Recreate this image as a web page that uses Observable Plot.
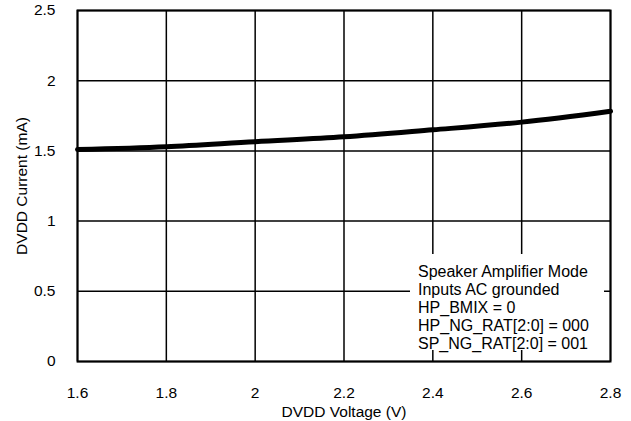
<!DOCTYPE html>
<html>
<head>
<meta charset="utf-8">
<script src="https://cdn.jsdelivr.net/npm/d3@7"></script>
<script src="https://cdn.jsdelivr.net/npm/@observablehq/plot@0.6"></script>
<style>
  html, body { margin: 0; padding: 0; background: #fff; }
  #wrap { position: relative; width: 631px; height: 421px; font-family: "Liberation Sans", Arial, sans-serif; }
  #note { position: absolute; left: 410px; top: 254px; width: 194px; height: 96px; background: #fff;
          font-size: 16px; line-height: 18px; padding: 9px 0 0 8px; box-sizing: border-box; color: #000; white-space: nowrap; }
</style>
</head>
<body>
<div id="wrap"><div id="chart"></div><div id="note"></div></div>
<script>
const voltage = [1.6, 1.8, 2.0, 2.2, 2.4, 2.6, 2.8];
const current = [1.51, 1.53, 1.566, 1.60, 1.65, 1.705, 1.783];
const xTicks = [1.6, 1.8, 2.0, 2.2, 2.4, 2.6, 2.8];
const yTicks = [0, 0.5, 1, 1.5, 2, 2.5];
const noteLines = ["Speaker Amplifier Mode", "Inputs AC grounded", "HP_BMIX = 0", "HP_NG_RAT[2:0] = 000", "SP_NG_RAT[2:0] = 001"];
const xLabel = "DVDD Voltage (V)";
const yLabel = "DVDD Current (mA)";

const data = voltage.map((v, i) => ({v, c: current[i]}));

const chart = Plot.plot({
  width: 631,
  height: 421,
  marginLeft: 77,
  marginRight: 21,
  marginTop: 10,
  marginBottom: 60,
  style: {fontFamily: "Liberation Sans, Arial, sans-serif", fontSize: "15px", color: "#000", background: "#fff"},
  x: {domain: [1.6, 2.8]},
  y: {domain: [0, 2.5]},
  marks: [
    Plot.gridX(xTicks, {stroke: "#000", strokeOpacity: 1, strokeWidth: 1.5}),
    Plot.gridY(yTicks, {stroke: "#000", strokeOpacity: 1, strokeWidth: 1.5}),
    Plot.line(data, {x: "v", y: "c", curve: "natural", stroke: "#000", strokeWidth: 5}),
    Plot.frame({stroke: "#000", strokeWidth: 2}),
    Plot.axisX(xTicks, {tickSize: 0, tickPadding: 25, tickFormat: d => String(+d.toFixed(1)),
      label: xLabel, labelAnchor: "center", labelArrow: "none", labelOffset: 55, fontSize: 15.5}),
    Plot.axisY(yTicks, {tickSize: 0, tickPadding: 22, tickFormat: d => String(d),
      label: yLabel, labelAnchor: "center", labelArrow: "none", labelOffset: 62, fontSize: 15.5})
  ]
});
document.getElementById("chart").appendChild(chart);
document.getElementById("note").innerHTML = noteLines.map(s => `<div>${s}</div>`).join("");
</script>
</body>
</html>
